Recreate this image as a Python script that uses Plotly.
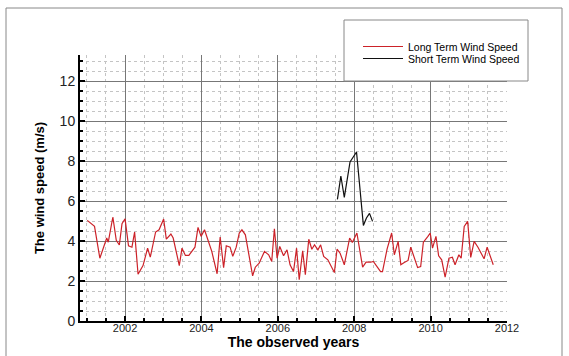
import plotly.graph_objects as go

# Long term wind speed (monthly)
long_years = [2001.01, 2001.16, 2001.20, 2001.34, 2001.52, 2001.56, 2001.68, 2001.77, 2001.85, 2001.92,
              2002.00, 2002.09, 2002.18, 2002.25, 2002.34, 2002.47, 2002.59, 2002.66, 2002.80, 2002.89,
              2003.01, 2003.08, 2003.20, 2003.26, 2003.42, 2003.49, 2003.58, 2003.67, 2003.75, 2003.83,
              2003.91, 2003.99, 2004.08, 2004.15, 2004.27, 2004.41, 2004.49, 2004.58, 2004.65, 2004.75,
              2004.82, 2004.91, 2004.99, 2005.06, 2005.15, 2005.34, 2005.41, 2005.51, 2005.60, 2005.65,
              2005.76, 2005.84, 2005.91, 2005.98, 2006.05, 2006.15, 2006.24, 2006.32, 2006.41, 2006.49,
              2006.56, 2006.65, 2006.72, 2006.81, 2006.89, 2006.96, 2007.05, 2007.12, 2007.20, 2007.31,
              2007.48, 2007.55, 2007.63, 2007.74, 2007.88, 2007.95, 2008.07, 2008.22, 2008.31, 2008.43,
              2008.50, 2008.60, 2008.69, 2008.74, 2008.86, 2008.98, 2009.05, 2009.15, 2009.22, 2009.31,
              2009.41, 2009.48, 2009.58, 2009.66, 2009.74, 2009.81, 2009.93, 2009.99, 2010.05, 2010.14,
              2010.21, 2010.29, 2010.38, 2010.48, 2010.57, 2010.64, 2010.74, 2010.80, 2010.88, 2010.97,
              2011.05, 2011.14, 2011.24, 2011.33, 2011.40, 2011.48, 2011.54, 2011.64]
long_speed = [5.03, 4.78, 4.73, 3.14, 4.15, 3.94, 5.20, 4.03, 3.80, 4.86,
              5.11, 3.76, 3.69, 4.45, 2.34, 2.77, 3.64, 3.19, 4.45, 4.56,
              5.10, 4.09, 4.35, 4.15, 2.77, 3.64, 3.28, 3.28, 3.48, 3.69,
              4.68, 4.23, 4.56, 4.20, 3.48, 2.36, 4.20, 2.67, 3.76, 3.69,
              3.23, 3.69, 4.40, 4.56, 4.31, 2.26, 2.69, 2.89, 3.31, 3.48,
              3.31, 2.98, 4.61, 3.14, 3.73, 3.26, 3.56, 2.81, 2.47, 3.64,
              2.06, 3.51, 2.31, 4.09, 3.59, 3.81, 3.56, 3.81, 3.23, 3.06,
              2.42, 3.59, 3.39, 2.81, 4.15, 3.93, 4.40, 2.69, 2.94, 2.94,
              2.98, 2.72, 2.47, 2.47, 3.59, 4.40, 3.31, 3.98, 2.81, 2.92,
              3.03, 3.69, 3.14, 2.67, 2.72, 3.94, 4.23, 4.40, 3.64, 4.23,
              3.26, 3.06, 2.19, 3.14, 3.19, 2.81, 3.31, 3.14, 4.73, 4.98,
              3.18, 3.98, 3.69, 3.36, 3.11, 3.69, 3.39, 2.81]

# Short term wind speed
short_years = [2007.56, 2007.65, 2007.74, 2007.89, 2008.06, 2008.24, 2008.32, 2008.40, 2008.48]
short_speed = [6.08, 7.25, 6.18, 7.95, 8.45, 4.78, 5.15, 5.38, 4.98]

x_ticks = [2002, 2004, 2006, 2008, 2010, 2012]
y_ticks = [0, 2, 4, 6, 8, 10, 12]

FONT = "Liberation Sans, Arial, sans-serif"

fig = go.Figure()
fig.add_trace(go.Scatter(x=long_years, y=long_speed, mode="lines",
                         name="Long Term Wind Speed", legend="legend",
                         line=dict(color="#cc2229", width=1.2)))
fig.add_trace(go.Scatter(x=short_years, y=short_speed, mode="lines",
                         name="Short Term Wind Speed", legend="legend2",
                         line=dict(color="#111111", width=1.2)))

# plot area: x 80..507, y 55..321 (px)
L, R, T, B = 80, 507, 55, 321
W, H = 569, 356
def px(xp):
    return (xp - L) / (R - L)
def py(yp):
    return (B - yp) / (B - T)

leg_common = dict(xanchor="left", yanchor="top", bgcolor="rgba(0,0,0,0)", borderwidth=0,
                  font=dict(size=10.5, color="#000"), itemwidth=40)

fig.update_layout(
    width=W, height=H,
    margin=dict(l=L, r=W - R, t=T, b=H - B, autoexpand=False),
    paper_bgcolor="white", plot_bgcolor="white",
    font=dict(family=FONT, color="#222"),
    showlegend=True,
    legend=dict(x=px(358), y=py(32), **leg_common),
    legend2=dict(x=px(358), y=py(44), **leg_common),
    shapes=[
        dict(type="rect", xref="paper", yref="paper",
             x0=px(6), x1=px(562), y0=py(8), y1=py(380),
             line=dict(color="#888", width=1), fillcolor="rgba(0,0,0,0)", layer="below"),
        dict(type="rect", xref="paper", yref="paper",
             x0=px(344), x1=px(528), y0=py(20), y1=py(81),
             line=dict(color="#888", width=1), fillcolor="white", layer="above"),
    ],
)

fig.update_xaxes(
    range=[2000.82, 2012], tickvals=x_ticks, ticktext=[str(v) for v in x_ticks],
    ticks="inside", ticklen=5, tickwidth=1.5, tickcolor="#000",
    showline=True, linecolor="#000", linewidth=2,
    showgrid=True, gridcolor="#777777", gridwidth=1,
    zeroline=False, automargin=False, ticklabelstandoff=-4,
    minor=dict(dtick=0.5, tick0=2001, showgrid=True, gridcolor="#c4c4c4",
               griddash="dot", ticks="inside", ticklen=3, tickcolor="#000"),
    tickfont=dict(size=11, color="#222"),
    title=dict(text="<b>The observed years</b>", font=dict(size=14, color="#000"), standoff=0),
)
fig.update_yaxes(
    range=[0, 13.3], tickvals=y_ticks, ticktext=[str(v) for v in y_ticks],
    ticks="inside", ticklen=5, tickwidth=1.5, tickcolor="#000",
    showline=True, linecolor="#000", linewidth=2,
    showgrid=True, gridcolor="#777777", gridwidth=1,
    zeroline=False, automargin=False,
    minor=dict(dtick=0.5, showgrid=True, gridcolor="#c4c4c4",
               griddash="dot", ticks="inside", ticklen=3, tickcolor="#000"),
    tickfont=dict(size=14, color="#222"),
    title=dict(text="<b>The wind speed (m/s)</b>", font=dict(size=13, color="#000"), standoff=12),
)

fig.write_html("out.html", config={"displayModeBar": False},
               post_script="document.body.style.margin='0px';")
